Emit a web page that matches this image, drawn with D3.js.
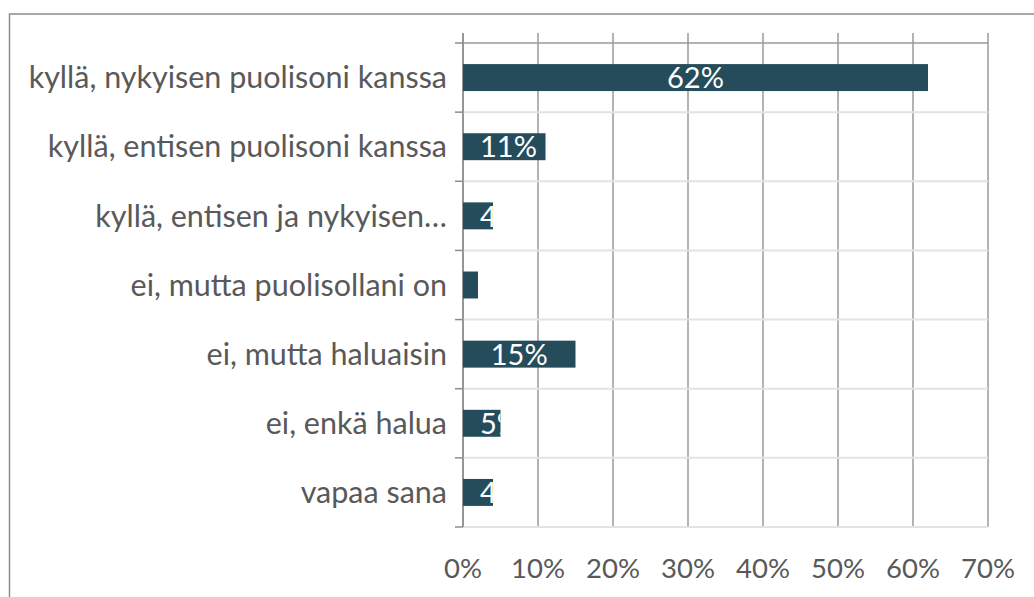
<!DOCTYPE html>
<html>
<head>
<meta charset="utf-8">
<script src="https://cdn.jsdelivr.net/npm/d3@7"></script>
<style>
    body { margin: 0; background: #fff; }
    text { font-family: Lato, "Open Sans", sans-serif; }
</style>
</head>
<body>
<div id="chart"></div>
<script>
const categories = [
    "kyllä, nykyisen puolisoni kanssa",
    "kyllä, entisen puolisoni kanssa",
    "kyllä, entisen ja nykyisen…",
    "ei, mutta puolisollani on",
    "ei, mutta haluaisin",
    "ei, enkä halua",
    "vapaa sana"
];
const values = [62, 11, 4, 2, 15, 5, 4];
const ticks = [0, 10, 20, 30, 40, 50, 60, 70];

const width = 1034;
const height = 597;

const svg = d3.select("#chart")
    .append("svg")
    .attr("width", width)
    .attr("height", height);

// outer chart border (continues past the picture on right and bottom)
svg.append("rect")
    .attr("x", 9.5)
    .attr("y", 14)
    .attr("width", width + 10)
    .attr("height", height + 10)
    .attr("fill", "none")
    .attr("stroke", "#8c8c8c")
    .attr("stroke-width", 1.5);

const x = d3.scaleLinear()
    .domain([0, 70])
    .range([463, 988]);

const y = d3.scaleBand()
    .domain(categories)
    .range([43, 527])
    .paddingInner(0.61)
    .paddingOuter(0.305);

const step = y.step();
const plotTop = 43, plotBottom = 527;

// vertical gridlines
svg.append("g")
    .selectAll("line")
    .data(ticks)
    .join("line")
    .attr("x1", d => x(d))
    .attr("x2", d => x(d))
    .attr("y1", 33)
    .attr("y2", plotBottom)
    .attr("stroke", "#9a9a9a")
    .attr("stroke-width", 1.5);

// category separators
const bounds = d3.range(categories.length + 1).map(i => plotTop + i * step);
svg.append("g")
    .selectAll("line")
    .data(bounds)
    .join("line")
    .attr("x1", 463)
    .attr("x2", x(70))
    .attr("y1", d => d)
    .attr("y2", d => d)
    .attr("stroke", (d, i) => i === 0 ? "#9a9a9a" : "#e3e3e3")
    .attr("stroke-width", (d, i) => i === 0 ? 1.5 : 2);

// category axis line + tick marks
svg.append("line")
    .attr("x1", 463).attr("x2", 463)
    .attr("y1", 33).attr("y2", plotBottom)
    .attr("stroke", "#8c8c8c")
    .attr("stroke-width", 1.5);
svg.append("g")
    .selectAll("line")
    .data(bounds)
    .join("line")
    .attr("x1", 455)
    .attr("x2", 463)
    .attr("y1", d => d)
    .attr("y2", d => d)
    .attr("stroke", "#8c8c8c")
    .attr("stroke-width", 1.5);

// category labels
svg.append("g")
    .selectAll("text")
    .data(categories)
    .join("text")
    .attr("x", 447)
    .attr("y", d => y(d) + y.bandwidth() / 2)
    .attr("dy", "0.35em")
    .attr("text-anchor", "end")
    .attr("font-size", 30.5)
    .attr("fill", "#595959")
    .text(d => d);

// value axis labels
svg.append("g")
    .selectAll("text")
    .data(ticks)
    .join("text")
    .attr("x", d => x(d))
    .attr("y", 578)
    .attr("text-anchor", "middle")
    .attr("font-size", 27.5)
    .attr("fill", "#595959")
    .text(d => d + "%");

// bars
const defs = svg.append("defs");
const bars = svg.append("g")
    .selectAll("g")
    .data(categories)
    .join("g");

bars.each(function (d, i) {
    defs.append("clipPath")
        .attr("id", "clip" + i)
        .append("rect")
        .attr("x", x(0))
        .attr("y", y(d))
        .attr("width", x(values[i]) - x(0))
        .attr("height", y.bandwidth());
});

bars.append("rect")
    .attr("x", x(0))
    .attr("y", d => y(d))
    .attr("width", (d, i) => x(values[i]) - x(0))
    .attr("height", y.bandwidth())
    .attr("fill", "#254c5a");

bars.append("text")
    .attr("clip-path", (d, i) => "url(#clip" + i + ")")
    .attr("y", d => y(d) + y.bandwidth() / 2)
    .attr("dy", "0.37em")
    .attr("font-size", 29)
    .attr("fill", "#ffffff")
    .text((d, i) => values[i] + "%")
    .attr("x", function (d, i) {
        const w = this.getComputedTextLength();
        const mid = (x(0) + x(values[i])) / 2;
        return Math.max(x(0) + 17, mid - w / 2);
    });
</script>
</body>
</html>
